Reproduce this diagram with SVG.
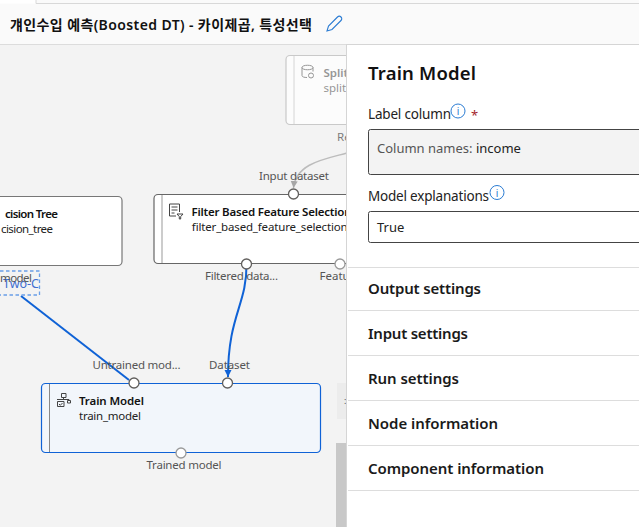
<svg xmlns="http://www.w3.org/2000/svg" width="639" height="527" viewBox="0 0 639 527">
<style>
text{font-family:"Noto Sans","Noto Sans CJK KR","Liberation Sans",sans-serif;fill:#323130}
.b{font-size:11.5px;font-weight:600;fill:#111}
.s{font-size:11.5px;fill:#222}
.p{font-size:11.5px;fill:#555}
.h{font-size:15px;font-weight:600;fill:#1a1a1a}
.l{font-size:13.5px;fill:#222}
.node{fill:#fff;stroke:#666;stroke-width:1.2}
.port{fill:#fff;stroke:#605e5c;stroke-width:1.3}
.sep{stroke:#ddd;stroke-width:1}
.ic{fill:none;stroke:#444;stroke-width:1}
.info{fill:#fff;stroke:#2b7cd3;stroke-width:1}
.it{font-size:10px;fill:#2b7cd3}
</style>
<defs>
<marker id="ah" markerUnits="userSpaceOnUse" markerWidth="8" markerHeight="8" refX="7" refY="3.500" orient="auto"><path d="M0 0L7 3.500L0 7Z" fill="#0f62d6"/></marker>
<marker id="ag" markerUnits="userSpaceOnUse" markerWidth="8" markerHeight="8" refX="7" refY="3.500" orient="auto"><path d="M0 0L7 3.500L0 7Z" fill="#a6a6a6"/></marker>
</defs>
<rect width="639" height="527" fill="#f3f3f3"/>
<g id="header">
<rect width="639" height="44" fill="#fafafa"/>
<rect width="36" height="3.500" fill="#fff"/>
<path d="M36 0V3.500H639" fill="none" stroke="#d8d8d8"/>
<path d="M0 44.500H639" stroke="#dcdcdc"/>
<text x="10" y="30" font-size="14" font-weight="600" style="fill:#111" textLength="302">걔인수입 예측(Boosted DT) - 카이제곱, 특성선택</text>
<path d="M327 31l1.500-5 9-9c1-1 2.500-1 3.500 0s1 2.500 0 3.500l-9 9z" fill="none" stroke="#2b7cd3" stroke-width="1.100"/>
</g>
<g id="connectors" fill="none">
<path d="M347 153C325 159 296 163 293.500 188" stroke="#bcbcbc" stroke-width="1.500" marker-end="url(#ag)"/>
<path d="M246.500 264C247 305 228 315 228 377" stroke="#0f62d6" stroke-width="2" marker-end="url(#ah)"/>
<path d="M21 296L129 380" stroke="#0f62d6" stroke-width="2"/>
</g>
<g id="node-split" opacity=".75">
<rect class="node" x="286" y="55.500" width="80" height="69" rx="4" fill="#fafafa" style="stroke:#bbb"/>
<path d="M294 56V124" stroke="#ccc"/>
<path class="ic" d="M302 67.500c0-3 11-3 11 0v4M302 67.500v8c0 1.500 2.500 2 5 2M302 67.500c0 3 11 3 11 0" style="stroke:#777"/>
<circle cx="311" cy="75.500" r="2.500" class="ic" style="stroke:#777"/>
<text class="b" x="323.500" y="77" style="fill:#777">Split</text>
<text class="s" x="323.500" y="92" style="fill:#777">split</text>
<text class="p" x="337" y="141">Re</text>
</g>
<g id="node-decision-tree">
<rect class="node" x="-12" y="196.500" width="134" height="69" rx="4" style="stroke:#777"/>
<text class="b" x="5" y="218" textLength="53">cision Tree</text>
<text class="s" x="1" y="233" textLength="52">cision_tree</text>
<rect x="-6" y="271" width="45.500" height="24" fill="none" stroke="#6a9fe8" stroke-width="1.300" stroke-dasharray="3.500 2.500"/>
<text x="3" y="287.500" font-size="12.500" style="fill:#3f6fd1" textLength="36">Two-C</text>
<text class="p" x="0" y="282" textLength="32">model</text>
</g>
<g id="node-filter">
<rect class="node" x="154" y="194.500" width="210" height="69" rx="4"/>
<path d="M162 195V263" stroke="#ccc" stroke-width="2"/>
<path class="ic" d="M176 216h-6.500v-12h10v8M171.500 207h6M171.500 210h6M171.500 213h3"/>
<path d="M177 214h6l-2.300 2.600v2.400h-1.400v-2.400z" fill="none" stroke="#444"/>
<text class="b" x="191.500" y="216" textLength="160">Filter Based Feature Selection</text>
<text class="s" x="191.500" y="231" textLength="156">filter_based_feature_selection</text>
<circle class="port" cx="293.500" cy="194" r="5"/>
<circle class="port" cx="246.500" cy="264" r="5"/>
<circle class="port" cx="340" cy="264" r="5" style="stroke:#999"/>
<text class="p" x="259" y="180" textLength="70">Input dataset</text>
<text class="p" x="205" y="280" textLength="73">Filtered data...</text>
<text class="p" x="319.500" y="280">Featu</text>
</g>
<g id="node-train-model">
<rect x="41.500" y="383.500" width="279" height="69" rx="4" fill="#f2f6fb" stroke="#0f62d6" stroke-width="1.200"/>
<path d="M49.500 384V452" stroke="#888"/>
<path class="ic" d="M61.500 393.500h4.500v4h-4.500zM67.500 400.500h3v2.500h-3zM63.500 397.500v1.500M57 399.500H69v1M57.500 401.500h6.500v5h-6.500zM59 404l1.300 1.300 2.200-2.300"/>
<text class="b" x="79" y="405" textLength="65">Train Model</text>
<text class="s" x="79" y="420" textLength="62">train_model</text>
<circle class="port" cx="134" cy="383" r="5"/>
<circle class="port" cx="227.500" cy="383" r="5"/>
<circle class="port" cx="181" cy="453" r="5" style="stroke:#999"/>
<text class="p" x="92.500" y="369" textLength="88">Untrained mod...</text>
<text class="p" x="209" y="369" textLength="41">Dataset</text>
<text class="p" x="146.500" y="469" textLength="75">Trained model</text>
</g>
<g id="scroll">
<rect x="337" y="383" width="10" height="36" fill="#ececec"/>
<text x="344" y="404" font-size="9" style="fill:#555">:</text>
<rect x="336" y="443" width="11" height="84" fill="#c8c8c8"/>
</g>
<g id="panel">
<rect x="346.500" y="44.500" width="293" height="483" fill="#fff" stroke="#d5d5d5"/>
<text x="368" y="79.500" font-size="18.500" font-weight="600" style="fill:#111" textLength="108">Train Model</text>
<text class="l" x="368" y="119" textLength="83">Label column</text>
<circle class="info" cx="458" cy="111" r="7"/><text class="it" x="458" y="115" text-anchor="middle">i</text>
<text x="471" y="120" font-size="13" style="fill:#a4262c">*</text>
<rect x="368.500" y="129.500" width="290" height="45" rx="2" fill="#f3f3f3" stroke="#444"/>
<text x="377" y="153" font-size="13" style="fill:#555">Column names: <tspan style="fill:#222">income</tspan></text>
<text class="l" x="368" y="201" textLength="121">Model explanations</text>
<circle class="info" cx="497" cy="192.500" r="7"/><text class="it" x="497" y="196.500" text-anchor="middle">i</text>
<rect x="368.500" y="211.500" width="290" height="31" rx="2" fill="#fff" stroke="#444"/>
<text x="377" y="232" font-size="13" style="fill:#222">True</text>
<path class="sep" d="M348 267.500H639M348 310.500H639M348 355.500H639M348 400.500H639M348 445.500H639M348 490.500H639"/>
<text class="h" x="368" y="294" textLength="113">Output settings</text>
<text class="h" x="368" y="339" textLength="100">Input settings</text>
<text class="h" x="368" y="384" textLength="91">Run settings</text>
<text class="h" x="368" y="429" textLength="130">Node information</text>
<text class="h" x="368" y="474" textLength="176">Component information</text>
</g>
</svg>
